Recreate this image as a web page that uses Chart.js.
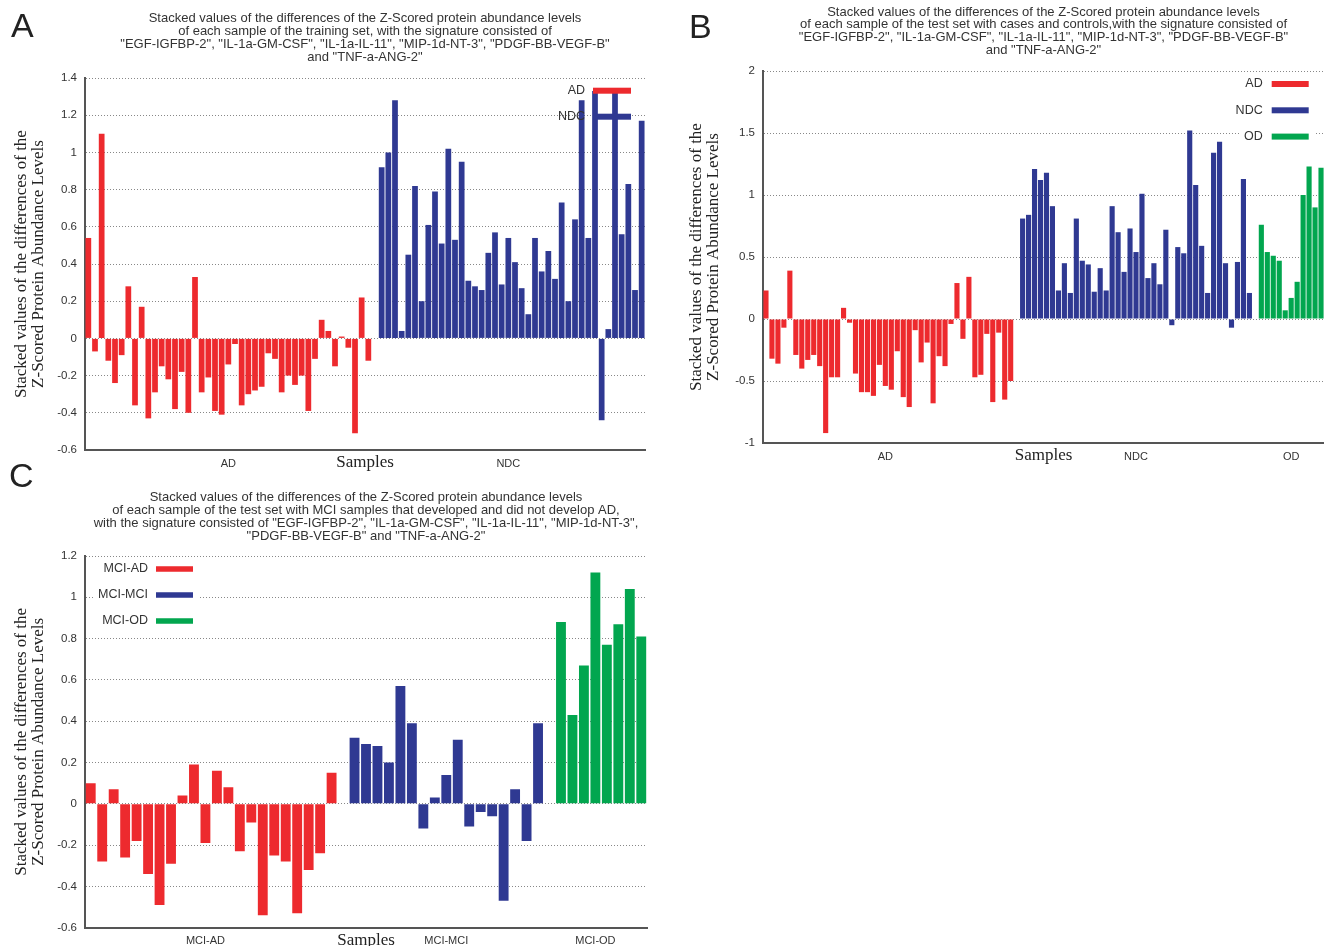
<!DOCTYPE html>
<html>
<head>
<meta charset="utf-8">
<script src="https://cdn.jsdelivr.net/npm/chart.js@4.4.1/dist/chart.umd.min.js"></script>
<style>
  body { margin: 0; background: #fff; }
  #page { position: relative; width: 1324px; height: 946px; overflow: hidden; background: #fff; }
  .panel { position: absolute; }
  .letter { position: absolute; font-family: "Liberation Sans", Arial, sans-serif; font-size: 34px; line-height: 34px; color: #222; }
</style>
</head>
<body>
<div id="page">
  <div class="panel" style="left:0;top:0"><canvas id="chartA" width="660" height="478"></canvas></div>
  <div class="panel" style="left:660px;top:0"><canvas id="chartB" width="664" height="470"></canvas></div>
  <div class="panel" style="left:0;top:480px"><canvas id="chartC" width="660" height="490"></canvas></div>
  <div class="letter" style="left:11px;top:8px">A</div>
  <div class="letter" style="left:689px;top:9px">B</div>
  <div class="letter" style="left:9px;top:458px">C</div>
</div>
<script>
// Colours of the three sample groups
const RED = '#ed2a2e';
const BLUE = '#2f3992';
const GREEN = '#02a64f';

// Panel A - training set
const trainGroups = ['AD', 'NDC'];
const trainAD = [0.54, -0.07, 1.10, -0.12, -0.24, -0.09, 0.28, -0.36, 0.17, -0.43,
    -0.29, -0.15, -0.22, -0.38, -0.18, -0.40, 0.33, -0.29, -0.21, -0.39,
    -0.41, -0.14, -0.03, -0.36, -0.30, -0.28, -0.26, -0.08, -0.11, -0.29,
    -0.20, -0.25, -0.20, -0.39, -0.11, 0.10, 0.04, -0.15, 0.01, -0.05,
    -0.51, 0.22, -0.12];
const trainNDC = [0.92, 1.00, 1.28, 0.04, 0.45, 0.82, 0.20, 0.61, 0.79, 0.51,
    1.02, 0.53, 0.95, 0.31, 0.28, 0.26, 0.46, 0.57, 0.29, 0.54,
    0.41, 0.27, 0.13, 0.54, 0.36, 0.47, 0.32, 0.73, 0.20, 0.64,
    1.28, 0.54, 1.33, -0.44, 0.05, 1.33, 0.56, 0.83, 0.26, 1.17];
const yTicksA = [-0.6, -0.4, -0.2, 0, 0.2, 0.4, 0.6, 0.8, 1, 1.2, 1.4];

// Panel B - test set with cases and controls
const testGroups = ['AD', 'NDC', 'OD'];
const testAD = [0.23, -0.32, -0.36, -0.07, 0.39, -0.29, -0.40, -0.33, -0.29, -0.38,
    -0.92, -0.47, -0.47, 0.09, -0.03, -0.44, -0.59, -0.59, -0.62, -0.37,
    -0.54, -0.57, -0.26, -0.63, -0.71, -0.09, -0.35, -0.19, -0.68, -0.30,
    -0.38, -0.04, 0.29, -0.16, 0.34, -0.47, -0.45, -0.12, -0.67, -0.11,
    -0.65, -0.50];
const testNDC = [0.81, 0.84, 1.21, 1.12, 1.18, 0.91, 0.23, 0.45, 0.21, 0.81,
    0.47, 0.44, 0.22, 0.41, 0.23, 0.91, 0.70, 0.38, 0.73, 0.54,
    1.01, 0.33, 0.45, 0.28, 0.72, -0.05, 0.58, 0.53, 1.52, 1.08,
    0.59, 0.21, 1.34, 1.43, 0.45, -0.07, 0.46, 1.13, 0.21];
const testOD = [0.76, 0.54, 0.51, 0.47, 0.07, 0.17, 0.30, 1.00, 1.23, 0.90, 1.22];
const yTicksB = [-1, -0.5, 0, 0.5, 1, 1.5, 2];

// Panel C - MCI samples
const mciGroups = ['MCI-AD', 'MCI-MCI', 'MCI-OD'];
const mciAD = [0.10, -0.28, 0.07, -0.26, -0.18, -0.34, -0.49, -0.29, 0.04, 0.19,
    -0.19, 0.16, 0.08, -0.23, -0.09, -0.54, -0.25, -0.28, -0.53, -0.32,
    -0.24, 0.15];
const mciMCI = [0.32, 0.29, 0.28, 0.20, 0.57, 0.39, -0.12, 0.03, 0.14, 0.31,
    -0.11, -0.04, -0.06, -0.47, 0.07, -0.18, 0.39];
const mciOD = [0.88, 0.43, 0.67, 1.12, 0.77, 0.87, 1.04, 0.81];
const yTicksC = [-0.6, -0.4, -0.2, 0, 0.2, 0.4, 0.6, 0.8, 1, 1.2];

const yTitle = ['Stacked values of the differences of the', 'Z-Scored Protein Abundance Levels'];

// Legend drawn as "label ——" rows, like the original key
const lineLegend = {
    id: 'lineLegend',
    afterDatasetsDraw(chart, args, opts) {
        const { ctx, chartArea } = chart;
        ctx.save();
        ctx.font = '12.5px "Liberation Sans", Arial, sans-serif';
        ctx.textBaseline = 'middle';
        ctx.textAlign = 'right';
        chart.data.datasets.forEach((ds, i) => {
            const y = chartArea.top + opts.top + i * opts.rowGap;
            const x0 = opts.side === 'left' ? chartArea.left + opts.lineStart : chartArea.right - opts.lineStart;
            if (opts.opaque) {
                const w = ctx.measureText(ds.label).width;
                ctx.fillStyle = '#fff';
                ctx.fillRect(x0 - opts.gap - w - 4, y - 10, w + opts.gap + opts.lineLength + 11, 20);
            }
            ctx.fillStyle = '#333';
            ctx.fillText(ds.label, x0 - opts.gap, y);
            ctx.fillStyle = ds.backgroundColor;
            ctx.fillRect(x0, y - opts.thickness / 2, opts.lineLength, opts.thickness);
        });
        ctx.restore();
    }
};

// Lay the groups side by side with one empty slot between them
function buildData(names, series, colors) {
    const labels = [];
    const groupTicks = {};
    const slots = [];
    series.forEach((values, g) => {
        if (g > 0) labels.push('');
        const start = labels.length;
        values.forEach((v, i) => labels.push(names[g] + ' ' + (i + 1)));
        slots.push(start);
        groupTicks[start + Math.floor((values.length - 1) / 2)] = names[g];
    });
    const datasets = series.map((values, g) => {
        const data = labels.map(() => null);
        values.forEach((v, i) => { data[slots[g] + i] = v; });
        return {
            label: names[g],
            data: data,
            backgroundColor: colors[g],
            borderWidth: 0,
            grouped: false,
            barPercentage: 0.86,
            categoryPercentage: 1
        };
    });
    return { labels, datasets, groupTicks };
}

function makeChart(id, p) {
    const built = buildData(p.names, p.series, p.colors);
    return new Chart(document.getElementById(id).getContext('2d'), {
        type: 'bar',
        data: { labels: built.labels, datasets: built.datasets },
        plugins: [lineLegend],
        options: {
            responsive: false,
            animation: false,
            layout: { padding: p.padding },
            plugins: {
                legend: { display: false },
                tooltip: { enabled: false },
                title: {
                    display: true,
                    text: p.title,
                    fullSize: false,
                    color: '#333',
                    font: { family: '"Liberation Sans", Arial, sans-serif', size: 13, weight: 'normal', lineHeight: p.titleLine },
                    padding: p.titlePad
                },
                lineLegend: p.legend
            },
            scales: {
                x: {
                    grid: { display: false },
                    border: { display: true, color: '#555', width: 2 },
                    ticks: {
                        autoSkip: false,
                        maxRotation: 0,
                        padding: -1,
                        color: '#333',
                        font: { family: '"Liberation Sans", Arial, sans-serif', size: 11 },
                        callback: (v, i) => built.groupTicks[i] || ''
                    },
                    title: {
                        display: true,
                        text: 'Samples',
                        color: '#222',
                        padding: 0,
                        font: { family: '"Liberation Serif", "Times New Roman", serif', size: 17, lineHeight: 1 }
                    },
                    afterFit: s => { s.height = p.xHeight; }
                },
                y: {
                    min: p.yTicks[0],
                    max: p.yTicks[p.yTicks.length - 1],
                    afterBuildTicks: s => { s.ticks = p.yTicks.map(value => ({ value })); },
                    grid: { color: '#888', lineWidth: 1, drawTicks: false },
                    border: { display: true, color: '#555', width: 2, dash: [1, 2] },
                    ticks: {
                        padding: 8,
                        color: '#333',
                        font: { family: '"Liberation Sans", Arial, sans-serif', size: 11.5 },
                        callback: v => String(v)
                    },
                    title: {
                        display: true,
                        text: yTitle,
                        color: '#222',
                        padding: { top: p.yTitlePad, bottom: 0 },
                        font: { family: '"Liberation Serif", "Times New Roman", serif', size: 17, lineHeight: 1 }
                    },
                    afterFit: s => { s.width = p.yWidth; }
                }
            }
        }
    });
}

makeChart('chartA', {
    names: trainGroups,
    series: [trainAD, trainNDC],
    colors: [RED, BLUE],
    yTicks: yTicksA,
    title: ['Stacked values of the differences of the Z-Scored protein abundance levels',
        'of each sample of the training set, with the signature consisted of',
        '"EGF-IGFBP-2", "IL-1a-GM-CSF", "IL-1a-IL-11", "MIP-1d-NT-3", "PDGF-BB-VEGF-B"',
        'and "TNF-a-ANG-2"'],
    titleLine: '13px',
    titlePad: { top: 11.5, bottom: 14.5 },
    padding: { top: 0, left: 0, right: 15, bottom: 6.5 },
    yWidth: 85, xHeight: 21.5, yTitlePad: 13,
    legend: { side: 'right', lineStart: 52, lineLength: 38, gap: 8, top: 12.7, rowGap: 26, thickness: 6, opaque: false }
});

makeChart('chartB', {
    names: testGroups,
    series: [testAD, testNDC, testOD],
    colors: [RED, BLUE, GREEN],
    yTicks: yTicksB,
    title: ['Stacked values of the differences of the Z-Scored protein abundance levels',
        'of each sample of the test set with cases and controls,with the signature consisted of',
        '"EGF-IGFBP-2", "IL-1a-GM-CSF", "IL-1a-IL-11", "MIP-1d-NT-3", "PDGF-BB-VEGF-B"',
        'and "TNF-a-ANG-2"'],
    titleLine: '12.7px',
    titlePad: { top: 5.6, bottom: 14.6 },
    padding: { top: 0, left: 0, right: 0, bottom: 5.5 },
    yWidth: 103, xHeight: 21.5, yTitlePad: 28.5,
    legend: { side: 'right', lineStart: 52.3, lineLength: 37, gap: 9, top: 13, rowGap: 26.3, thickness: 6, opaque: true }
});

makeChart('chartC', {
    names: mciGroups,
    series: [mciAD, mciMCI, mciOD],
    colors: [RED, BLUE, GREEN],
    yTicks: yTicksC,
    title: ['Stacked values of the differences of the Z-Scored protein abundance levels',
        'of each sample of the test set with MCI samples that developed and did not develop AD,',
        'with the signature consisted of "EGF-IGFBP-2", "IL-1a-GM-CSF", "IL-1a-IL-11", "MIP-1d-NT-3",',
        '"PDGF-BB-VEGF-B" and "TNF-a-ANG-2"'],
    titleLine: '13px',
    titlePad: { top: 10.5, bottom: 13.5 },
    padding: { top: 0, left: 0, right: 13, bottom: 20.5 },
    yWidth: 85, xHeight: 21.8, yTitlePad: 13,
    legend: { side: 'left', lineStart: 71, lineLength: 37, gap: 8, top: 13, rowGap: 26, thickness: 5.5, opaque: true }
});
</script>
</body>
</html>
